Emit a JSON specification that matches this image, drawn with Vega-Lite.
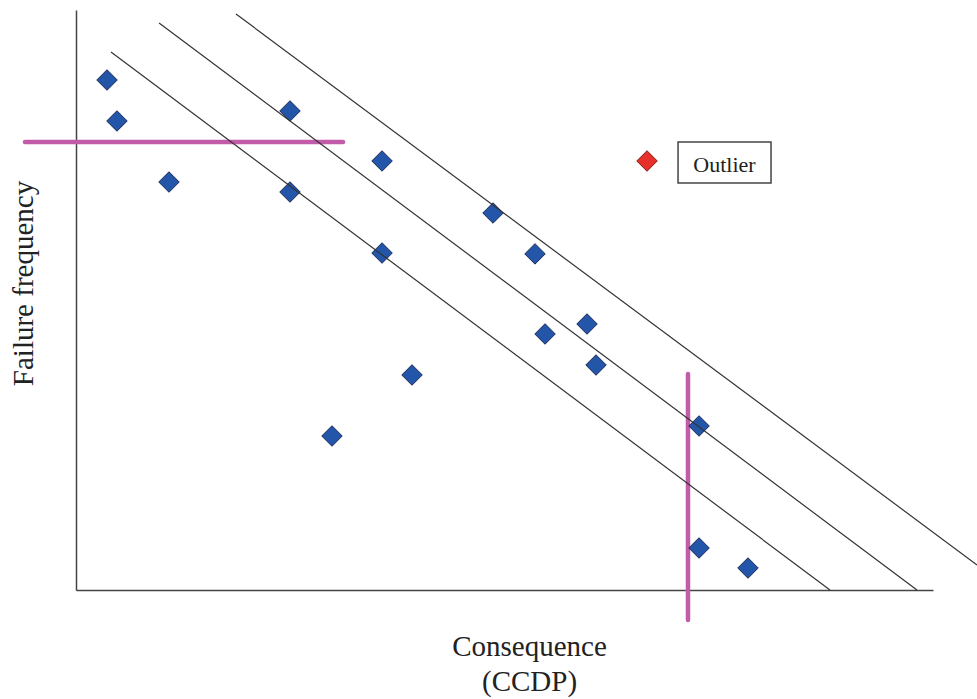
{
  "$schema": "https://vega.github.io/schema/vega-lite/v6.json",
  "width": 857,
  "height": 580,
  "autosize": {"type": "none"},
  "padding": {"left": 76, "top": 10, "right": 44, "bottom": 109},
  "background": "white",
  "config": {"view": {"stroke": null}},
  "datasets": {
    "points": [
      {"ccdp": 0.362, "freq": 8.793},
      {"ccdp": 0.478, "freq": 8.086},
      {"ccdp": 1.085, "freq": 7.034},
      {"ccdp": 2.497, "freq": 8.259},
      {"ccdp": 2.497, "freq": 6.862},
      {"ccdp": 3.571, "freq": 7.397},
      {"ccdp": 3.571, "freq": 5.810},
      {"ccdp": 3.921, "freq": 3.707},
      {"ccdp": 2.987, "freq": 2.655},
      {"ccdp": 4.866, "freq": 6.500},
      {"ccdp": 5.356, "freq": 5.795},
      {"ccdp": 5.963, "freq": 4.586},
      {"ccdp": 5.473, "freq": 4.414},
      {"ccdp": 6.068, "freq": 3.879},
      {"ccdp": 7.270, "freq": 2.828},
      {"ccdp": 7.270, "freq": 0.724},
      {"ccdp": 7.841, "freq": 0.379}
    ],
    "diagonals": [
      {"line": "L1", "ccdp": 0.408, "freq": 9.276},
      {"line": "L1", "ccdp": 8.798, "freq": 0.0},
      {"line": "L2", "ccdp": 0.969, "freq": 9.776},
      {"line": "L2", "ccdp": 9.813, "freq": 0.0},
      {"line": "L3", "ccdp": 1.867, "freq": 9.931},
      {"line": "L3", "ccdp": 10.514, "freq": 0.431}
    ],
    "thresholds": [
      {"x1": -0.595, "x2": 3.116, "y1": 7.724, "y2": 7.724},
      {"x1": 7.141, "x2": 7.141, "y1": 3.724, "y2": -0.517}
    ],
    "legendbox": [
      {"x1": 7.025, "x2": 8.110, "y1": 7.724, "y2": 7.017}
    ],
    "legendsym": [
      {"ccdp": 6.663, "freq": 7.397, "label": "Outlier", "lx": 7.567, "ly": 7.207}
    ]
  },
  "layer": [
    {
      "data": {"name": "thresholds"},
      "mark": {"type": "rule", "color": "#C25BA8", "strokeWidth": 4.5, "strokeCap": "round", "clip": false},
      "encoding": {
        "x": {"field": "x1", "type": "quantitative", "scale": {"domain": [0, 10], "nice": false, "zero": false},
              "axis": {"title": ["Consequence", "(CCDP)"], "ticks": false, "labels": false, "grid": false,
                       "domainColor": "#444444", "domainWidth": 1.5,
                       "titleFont": "Liberation Serif", "titleFontSize": 29, "titleFontWeight": "normal",
                       "titleColor": "#222222", "titleX": 453, "titleY": 65, "titleAlign": "center",
                       "titleBaseline": "alphabetic", "titleLineHeight": 35}},
        "x2": {"field": "x2"},
        "y": {"field": "y1", "type": "quantitative", "scale": {"domain": [0, 10], "nice": false, "zero": false},
              "axis": {"title": "Failure frequency", "ticks": false, "labels": false, "grid": false,
                       "domainColor": "#444444", "domainWidth": 1.5,
                       "titleFont": "Liberation Serif", "titleFontSize": 29, "titleFontWeight": "normal",
                       "titleColor": "#222222", "titleX": -44, "titleY": 273, "titleAngle": -90,
                       "titleAlign": "center", "titleBaseline": "alphabetic"}},
        "y2": {"field": "y2"}
      }
    },
    {
      "data": {"name": "points"},
      "mark": {"type": "point", "shape": "diamond", "filled": true, "size": 420, "fill": "#2356A8",
               "stroke": "#1A2A55", "strokeWidth": 1, "opacity": 1, "clip": false},
      "encoding": {
        "x": {"field": "ccdp", "type": "quantitative"},
        "y": {"field": "freq", "type": "quantitative"}
      }
    },
    {
      "data": {"name": "diagonals"},
      "mark": {"type": "line", "color": "#333333", "strokeWidth": 1.2, "clip": false},
      "encoding": {
        "x": {"field": "ccdp", "type": "quantitative"},
        "y": {"field": "freq", "type": "quantitative"},
        "detail": {"field": "line"}
      }
    },
    {
      "data": {"name": "legendbox"},
      "mark": {"type": "rect", "fill": "white", "stroke": "#444444", "strokeWidth": 1.5, "clip": false},
      "encoding": {
        "x": {"field": "x1", "type": "quantitative"},
        "x2": {"field": "x2"},
        "y": {"field": "y1", "type": "quantitative"},
        "y2": {"field": "y2"}
      }
    },
    {
      "data": {"name": "legendsym"},
      "mark": {"type": "point", "shape": "diamond", "filled": true, "size": 420, "fill": "#E8302A",
               "stroke": "#7A1A15", "strokeWidth": 1, "opacity": 1, "clip": false},
      "encoding": {
        "x": {"field": "ccdp", "type": "quantitative"},
        "y": {"field": "freq", "type": "quantitative"}
      }
    },
    {
      "data": {"name": "legendsym"},
      "mark": {"type": "text", "font": "Liberation Serif", "fontSize": 22, "color": "#222222",
               "align": "center", "baseline": "alphabetic", "clip": false},
      "encoding": {
        "x": {"field": "lx", "type": "quantitative"},
        "y": {"field": "ly", "type": "quantitative"},
        "text": {"field": "label"}
      }
    }
  ]
}
